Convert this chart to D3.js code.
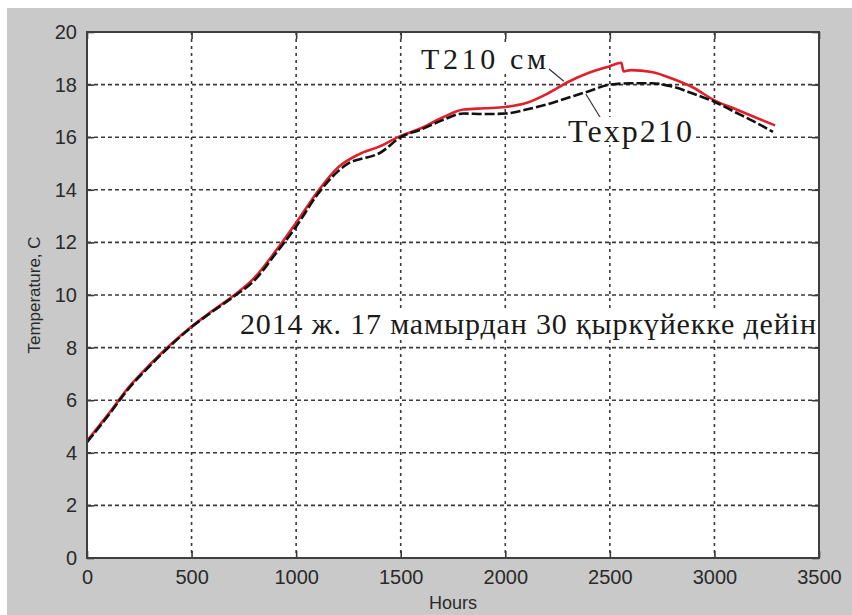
<!DOCTYPE html>
<html>
<head>
<meta charset="utf-8">
<script src="https://cdn.jsdelivr.net/npm/d3@7"></script>
<style>
  html, body { margin: 0; padding: 0; background: #ffffff; }
  svg { display: block; }
</style>
</head>
<body>
<svg id="chart" width="852" height="615"></svg>
<script>
// Computed soil temperature at 210 cm depth
const hoursCalc = [0, 100, 200, 300, 400, 500, 600, 700, 800, 900, 1000, 1100, 1200, 1300, 1400,
  1500, 1600, 1700, 1800, 1900, 2000, 2100, 2200, 2300, 2400, 2500, 2555, 2565, 2600, 2700,
  2800, 2900, 3000, 3100, 3200, 3290];
const tempCalc = [4.45, 5.45, 6.5, 7.35, 8.12, 8.8, 9.4, 9.97, 10.65, 11.65, 12.75, 13.9, 14.85, 15.35, 15.65,
  16.05, 16.35, 16.75, 17.05, 17.1, 17.15, 17.3, 17.65, 18.1, 18.45, 18.7, 18.83, 18.5, 18.55, 18.48,
  18.22, 17.88, 17.4, 17.07, 16.74, 16.45];

// Measured soil temperature at 210 cm depth
const hoursExp = [0, 100, 200, 300, 400, 500, 600, 700, 800, 900, 1000, 1100, 1200, 1260, 1300, 1400,
  1500, 1600, 1700, 1800, 1900, 2000, 2100, 2200, 2300, 2400, 2500, 2600, 2700,
  2800, 2900, 3000, 3100, 3200, 3280];
const tempExp = [4.4, 5.4, 6.45, 7.3, 8.08, 8.78, 9.37, 9.93, 10.55, 11.55, 12.6, 13.8, 14.7, 15.05, 15.15, 15.4,
  16.0, 16.3, 16.65, 16.9, 16.88, 16.9, 17.05, 17.25, 17.5, 17.75, 18.0, 18.05, 18.05,
  17.92, 17.65, 17.35, 16.95, 16.55, 16.2];

const xTicks = [0, 500, 1000, 1500, 2000, 2500, 3000, 3500];
const yTicks = [0, 2, 4, 6, 8, 10, 12, 14, 16, 18, 20];

const svg = d3.select("#chart");
const W = 852, H = 615;
const plot = { left: 87, right: 819, top: 32, bottom: 558 };

// figure background
svg.append("rect").attr("x", 7).attr("y", 8).attr("width", W - 7).attr("height", H - 8)
  .attr("fill", "#c9c9c9");

const x = d3.scaleLinear().domain([0, 3500]).range([plot.left, plot.right]);
const y = d3.scaleLinear().domain([0, 20]).range([plot.bottom, plot.top]);

// axes area
svg.append("rect").attr("x", plot.left).attr("y", plot.top)
  .attr("width", plot.right - plot.left).attr("height", plot.bottom - plot.top)
  .attr("fill", "#ffffff");

// grid
const grid = svg.append("g");
grid.selectAll("line.h").data(yTicks.slice(1, -1)).join("line")
  .attr("x1", plot.left).attr("x2", plot.right)
  .attr("y1", d => y(d)).attr("y2", d => y(d))
  .attr("stroke", "#3a3a3a").attr("stroke-width", 1.6).attr("stroke-dasharray", "4,3");
grid.selectAll("line.v").data(xTicks.slice(1, -1)).join("line")
  .attr("y1", plot.top).attr("y2", plot.bottom)
  .attr("x1", d => x(d)).attr("x2", d => x(d))
  .attr("stroke", "#3a3a3a").attr("stroke-width", 1.6).attr("stroke-dasharray", "3,4");

// axes with inward ticks on all four sides
const tickLen = 7;
const axisLeft = d3.axisLeft(y).tickValues(yTicks).tickSize(-tickLen).tickPadding(10).tickFormat(d3.format("d"));
const axisBottom = d3.axisBottom(x).tickValues(xTicks).tickSize(-tickLen).tickPadding(12).tickFormat(d3.format("d"));
const axisRight = d3.axisRight(y).tickValues(yTicks).tickSize(-tickLen).tickFormat("");
const axisTop = d3.axisTop(x).tickValues(xTicks).tickSize(-tickLen).tickFormat("");

function styleAxis(g) {
  g.select(".domain").remove();
  g.selectAll(".tick line").attr("stroke", "#3a3a3a").attr("stroke-width", 1.6);
  g.selectAll(".tick text").attr("fill", "#2a2a2a")
    .style("font-family", "'Liberation Sans', Arial, sans-serif").style("font-size", "20px");
}
svg.append("g").attr("transform", `translate(${plot.left},0)`).call(axisLeft).call(styleAxis);
svg.append("g").attr("transform", `translate(0,${plot.bottom})`).call(axisBottom).call(styleAxis);
svg.append("g").attr("transform", `translate(${plot.right},0)`).call(axisRight).call(styleAxis);
svg.append("g").attr("transform", `translate(0,${plot.top})`).call(axisTop).call(styleAxis);

// axis titles
svg.append("text").attr("x", (plot.left + plot.right) / 2).attr("y", 609)
  .attr("text-anchor", "middle").attr("fill", "#2a2a2a")
  .style("font-family", "'Liberation Sans', Arial, sans-serif").style("font-size", "18px")
  .text("Hours");
svg.append("text").attr("transform", `translate(40,${(plot.top + plot.bottom) / 2}) rotate(-90)`)
  .attr("text-anchor", "middle").attr("fill", "#2a2a2a")
  .style("font-family", "'Liberation Sans', Arial, sans-serif").style("font-size", "17px")
  .text("Temperature, C");

// series
const line = d3.line().x(d => x(d[0])).y(d => y(d[1])).curve(d3.curveMonotoneX);
const calcPts = hoursCalc.map((h, i) => [h, tempCalc[i]]);
const expPts = hoursExp.map((h, i) => [h, tempExp[i]]);

svg.append("path").datum(calcPts).attr("d", line)
  .attr("fill", "none").attr("stroke", "#e0202a").attr("stroke-width", 2.6);
svg.append("path").datum(expPts).attr("d", line)
  .attr("fill", "none").attr("stroke", "#111111").attr("stroke-width", 2.6)
  .attr("stroke-dasharray", "10,3");

// annotations
const serif = "'Liberation Serif', 'Times New Roman', serif";
function label(txt, x0, base, width, size) {
  const t = svg.append("text").attr("x", x0).attr("y", base)
    .attr("textLength", width).attr("lengthAdjust", "spacing")
    .attr("fill", "#1a1a1a").style("font-family", serif).style("font-size", size + "px")
    .text(txt);
  const bb = t.node().getBBox();
  svg.insert("rect", () => t.node())
    .attr("x", bb.x - 2).attr("y", bb.y + 4).attr("width", bb.width + 4).attr("height", bb.height - 8)
    .attr("fill", "#ffffff");
  return t;
}

// leader lines
svg.append("line").attr("x1", 549).attr("y1", 69).attr("x2", x(2280)).attr("y2", y(18.05) - 2)
  .attr("stroke", "#333").attr("stroke-width", 1.2);
svg.append("line").attr("x1", x(2385)).attr("y1", y(17.72) + 2).attr("x2", 603).attr("y2", 122)
  .attr("stroke", "#333").attr("stroke-width", 1.2);

label("T210 см", 421, 69, 125, 30);
label("Texp210", 568, 142, 124, 32);
label("2014 ж. 17 мамырдан 30 қыркүйекке дейін", 240, 334, 576, 30);

// axes box on top
svg.append("rect").attr("x", plot.left).attr("y", plot.top)
  .attr("width", plot.right - plot.left).attr("height", plot.bottom - plot.top)
  .attr("fill", "none").attr("stroke", "#3f3f3f").attr("stroke-width", 2);
</script>
</body>
</html>
